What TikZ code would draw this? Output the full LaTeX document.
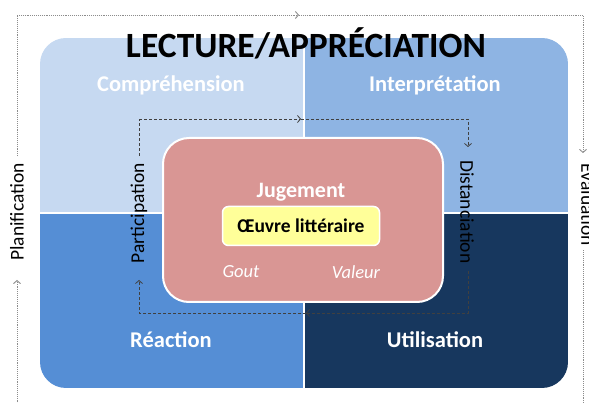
\documentclass[tikz,border=0pt]{standalone}
\usepackage{fontspec}
\setmainfont{Carlito}
\usepackage{tikz}
\usetikzlibrary{calc,positioning,arrows.meta,fit}

\definecolor{compfill}{RGB}{198,217,241}
\definecolor{interfill}{RGB}{142,180,227}
\definecolor{reacfill}{RGB}{85,142,213}
\definecolor{utilfill}{RGB}{23,55,94}
\definecolor{jugefill}{RGB}{217,150,148}
\definecolor{oeuvrefill}{RGB}{255,255,153}

\tikzset{
    >={Straight Barb[length=3pt,width=7pt]},
    quadrant/.style={
        rectangle,
        inner sep=0pt,
        minimum width=264pt,
        minimum height=175pt
    },
    quadlabel/.style={
        text=white,
        font=\fontsize{22.5}{26}\selectfont\bfseries
    },
    cycleline/.style={draw=black!75, densely dashed, line width=0.8pt},
    outerline/.style={draw=black!45, densely dotted, line width=0.9pt},
    steplabel/.style={
        font=\fontsize{19.5}{23}\selectfont,
        inner sep=7pt
    }
}

\begin{document}
\begin{tikzpicture}[x=1pt,y=-1pt,
            judgebox/.style={
                rectangle,
                rounded corners=26pt,
                fill=jugefill,
                draw=white,
                line width=2pt,
                minimum width=280pt,
                minimum height=164pt
            },
            workbox/.style={
                rectangle,
                rounded corners=6pt,
                fill=oeuvrefill,
                draw=white,
                line width=1.5pt,
                minimum width=157pt,
                minimum height=39pt,
                font=\fontsize{19.5}{23}\selectfont\bfseries
            },
            node distance=8pt and 20pt]
    \useasboundingbox (0,0) rectangle (589,403);

    % four quadrants inside the rounded frame
    \begin{scope}
        \clip[rounded corners=26pt] (40,38) rectangle (568,388);
        \node[quadrant, fill=compfill, anchor=south east] (comp) at (304,213) {};
        \node[quadrant, fill=interfill, anchor=south west] (inter) at (304,213) {};
        \node[quadrant, fill=reacfill, anchor=north east] (reac) at (304,213) {};
        \node[quadrant, fill=utilfill, anchor=north west] (util) at (304,213) {};
        \draw[white, line width=2pt] (comp.north east) -- (reac.south east);
        \draw[white, line width=2pt] (comp.south west) -- (inter.south east);
    \end{scope}

    \node[font=\fontsize{35.5}{40}\selectfont\bfseries] (title) at (306,43) {LECTURE/APPRÉCIATION};

    \node[quadlabel] (comp label) at (171,85) {Compréhension};
    \node[quadlabel] (inter label) at (435,85) {Interprétation};
    \node[quadlabel] (reac label) at (171,340) {Réaction};
    \node[quadlabel] (util label) at (435,340) {Utilisation};

    % inner cycle
    \coordinate (in nw) at (139,119);
    \coordinate (in n) at (301,119);
    \coordinate (in ne) at (468,119);
    \coordinate (in se) at (468,313);
    \coordinate (in s) at (306,313);
    \coordinate (in sw) at (139,313);
    \coordinate (dist arrow) at (468,147);
    \coordinate (part arrow) at (139,280);

    \node[steplabel, rotate=90] (part) at (139,213) {Participation};
    \node[steplabel, rotate=-90] (dist) at (467,212) {Distanciation};

    \draw[cycleline,->] (in nw) -- (in n);
    \draw[cycleline,->] (in n) -- (in ne) -- (dist arrow);
    \draw[cycleline,->] (in se |- dist.east) -- (in se) -- (in s);
    \draw[cycleline,->] (in s) -- (in sw) -- (part arrow);
    \draw[cycleline] (in nw |- part.east) -- (in nw);

    % central judgement block
    \node[judgebox] (juge box) at (303,220) {};
    \node[workbox] (oeuvre) at (301,226) {Œuvre littéraire};
    \node[above=1pt of oeuvre, text=white, font=\fontsize{22}{26}\selectfont\bfseries] (juge) {Jugement};
    \node[text=white, font=\fontsize{18.5}{22}\selectfont\itshape] (gout) at (241,272) {Gout};
    \node[text=white, font=\fontsize{18.5}{22}\selectfont\itshape] (valeur) at (356,272) {Valeur};

    % outer cycle
    \coordinate (out nw) at (17,15);
    \coordinate (out n) at (299,15);
    \coordinate (out ne) at (583,15);
    \coordinate (out se) at (583,410);
    \coordinate (out s) at (300,410);
    \coordinate (out sw) at (17,410);
    \coordinate (eval arrow) at (583,153);
    \coordinate (plan arrow) at (17,280);

    \node[steplabel, rotate=90] (plan) at (17,212) {Planification};
    \node[steplabel, rotate=-90, inner sep=4pt] (eval) at (588,205) {Evaluation};

    \draw[outerline,->] (out nw) -- (out n);
    \draw[outerline,->] (out n) -- (out ne) -- (eval arrow);
    \draw[outerline,->] (out se |- eval.east) -- (out se) -- (out s);
    \draw[outerline,->] (out s) -- (out sw) -- (plan arrow);
    \draw[outerline] (out nw |- plan.east) -- (out nw);
\end{tikzpicture}
\end{document}
